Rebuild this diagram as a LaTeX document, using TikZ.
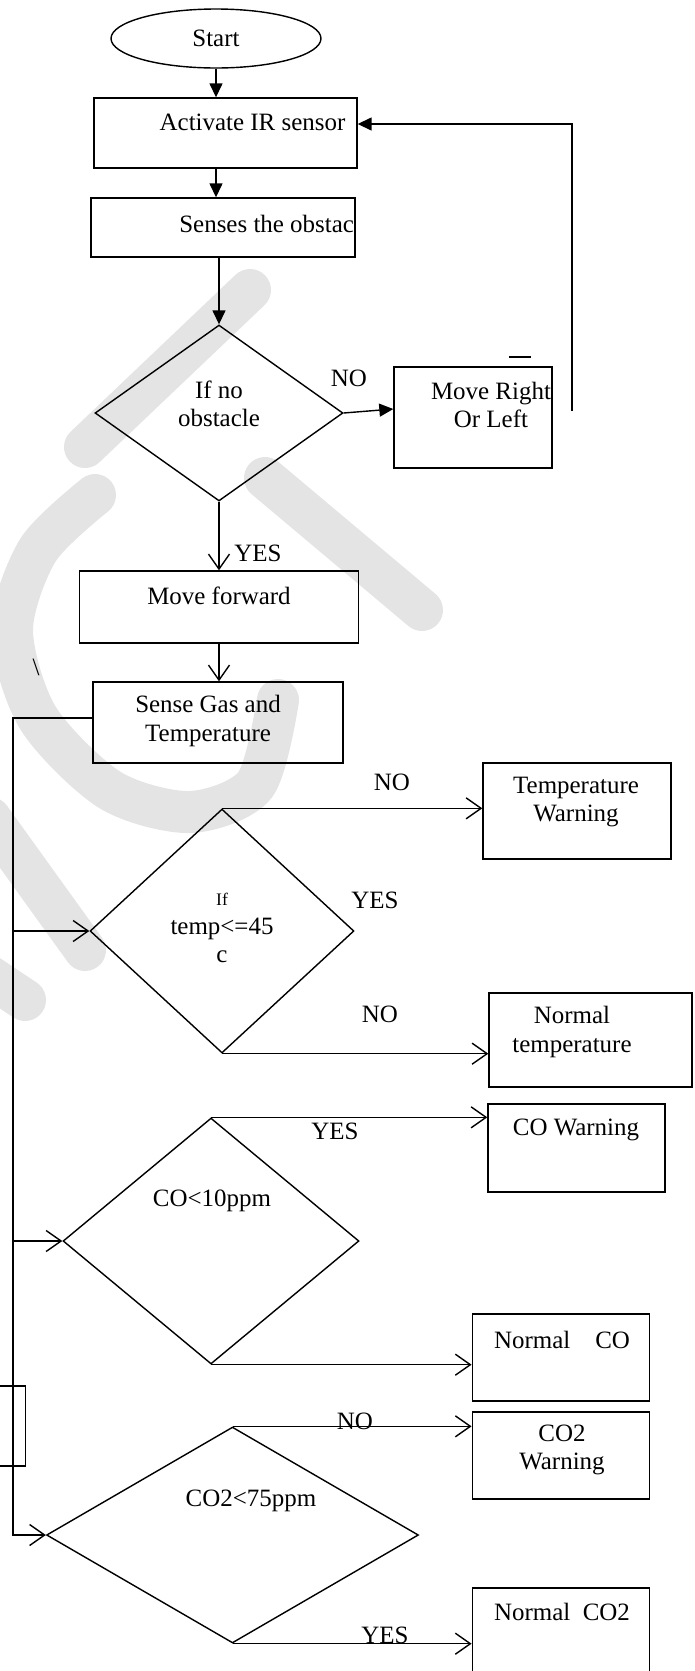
\documentclass[tikz,border=0pt]{standalone}
\usepackage{fontspec}
\setmainfont{Liberation Serif}
\usetikzlibrary{shapes.geometric, arrows.meta, calc}

\begin{document}
\begin{tikzpicture}[
        x=0.02cm, y=-0.02cm,
        every node/.style={font=\fontsize{14.2}{16}\selectfont},
        box/.style={draw, rectangle, line width=0.8pt, inner sep=0pt},
        term/.style={draw, ellipse, line width=0.8pt, inner sep=0pt},
        cond/.style={draw, diamond, line width=0.8pt, inner sep=0pt},
        txt/.style={align=center, inner sep=0pt},
        fa/.style={line width=0.8pt, -{Triangle[length=0.28cm, width=0.26cm]}},
        oa/.style={line width=0.8pt, -{Straight Barb[length=0.3cm, width=0.42cm]}},
        wm/.style={line width=0.84cm, line cap=round, gray!21}
    ]
        \useasboundingbox (0,0) rectangle (694,1671);

        \draw[wm] (250,290) -- (85,447);
        \draw[wm] (265,478) -- (422,610);
        \draw[wm] plot[smooth] coordinates {(95,495) (38,550) (12,630) (38,718) (110,790) (190,812) (255,785) (278,700)};
        \draw[wm] (-10,818) -- (85,950);
        \draw[wm] (-20,970) -- (25,1000);

        \node[term, minimum width=4.2cm, minimum height=1.18cm] (start) at (216,38.5) {Start};
        \node[box, minimum width=5.26cm, minimum height=1.4cm] (act) at (225.5,133) {};
        \node[txt] (act-t) at (252.5,122) {Activate IR sensor};
        \node[box, minimum width=5.28cm, minimum height=1.18cm] (sen) at (223,227.5) {};
        \node[txt, anchor=west] (sen-t) at (179,224) {Senses the obstac};
        \node[cond, minimum width=4.96cm, minimum height=3.52cm] (d1) at (219,413) {};
        \node[txt] (d1-t) at (219,404) {If no\\obstacle};
        \node[box, minimum width=3.16cm, minimum height=2.02cm] (mov) at (473,417.5) {};
        \node[txt] (mov-t) at (491,405) {Move Right\\Or Left};
        \node[box, minimum width=5.58cm, minimum height=1.44cm] (fwd) at (219,607) {};
        \node[txt] (fwd-t) at (219,596) {Move forward};
        \node[box, minimum width=5cm, minimum height=1.62cm] (gas) at (218,722.5) {};
        \node[txt] (gas-t) at (208,721) {Sense Gas and\\Temperature};
        \node[txt] (bsl) at (36,667) {\textbackslash};

        \node[cond, minimum width=5.28cm, minimum height=4.88cm] (d2) at (222,931) {};
        \node[txt] (d2-t) at (222,928) {{\fontsize{10}{12}\selectfont If}\\temp<=45\\c};
        \node[box, minimum width=3.76cm, minimum height=1.92cm] (tw) at (577,811) {};
        \node[txt] (tw-t) at (576,802) {Temperature\\Warning};
        \node[box, minimum width=4.06cm, minimum height=1.88cm] (nt) at (590.5,1040) {};
        \node[txt] (nt-t) at (572,1032) {Normal\\temperature};

        \node[cond, minimum width=5.92cm, minimum height=4.92cm] (d3) at (211,1241) {};
        \node[txt] (d3-t) at (212,1201) {CO<10ppm};
        \node[box, minimum width=3.54cm, minimum height=1.76cm] (cow) at (576.5,1148) {};
        \node[txt] (cow-t) at (576,1130) {CO Warning};
        \node[box, minimum width=3.55cm, minimum height=1.74cm] (nco) at (561,1357.5) {};
        \node[txt] (nco-t) at (562,1340) {Normal\quad CO};

        \node[box, minimum width=0.71cm, minimum height=1.6cm] (lbox) at (7.75,1426) {};
        \node[cond, minimum width=7.44cm, minimum height=4.32cm] (d4) at (232.5,1535) {};
        \node[txt] (d4-t) at (251,1501) {CO2<75ppm};
        \node[box, minimum width=3.55cm, minimum height=1.74cm] (co2w) at (561,1455.5) {};
        \node[txt] (co2w-t) at (562,1450) {CO2\\Warning};
        \node[box, minimum width=3.55cm, minimum height=2.64cm] (nco2) at (561,1654) {};
        \node[txt] (nco2-t) at (562,1612) {Normal\ \ CO2};

        \node[txt] (no1) at (349,378) {NO};
        \node[txt] (yes1) at (258,553) {YES};
        \node[txt] (no2) at (392,782) {NO};
        \node[txt] (yes2) at (375,900) {YES};
        \node[txt] (no3) at (380,1014) {NO};
        \node[txt] (yes3) at (335,1131) {YES};
        \node[txt] (no4) at (355,1421) {NO};
        \node[txt] (yes4) at (385,1635) {YES};

        \coordinate (fb) at (572,411);
        \coordinate (bus) at (13,0);

        \draw[fa] (start) -- (start |- act.north);
        \draw[fa] (start |- act.south) -- (start |- sen.north);
        \draw[fa] (d1 |- sen.south) -- (d1.north);
        \draw[fa] (d1.east) -- ($(mov.west)+(0,-8.5)$);
        \draw[fa] (fb) |- ($(act.east)+(0,-9)$);
        \draw[line width=0.8pt] (509,357) -- (531,357);

        \draw[oa] (d1.south) -- (d1 |- fwd.north);
        \draw[oa] (fwd.south) -- (fwd.south |- gas.north);
        \draw[oa] ($(gas.west)+(0,-4.5)$) -| (bus |- d4.west) -- (d4.west);
        \draw[oa] (bus |- d2.west) -- (d2.west);
        \draw[oa] (bus |- d3.west) -- (d3.west);

        \draw[oa] (d2.north) -- (d2.north -| tw.west);
        \draw[oa] (d2.south) -- (d2.south -| nt.west);
        \draw[oa] (d3.north) -- (d3.north -| cow.west);
        \draw[oa] (d3.south) -- (d3.south -| nco.west);
        \draw[oa] (d4.north) -- (d4.north -| co2w.west);
        \draw[oa] (d4.south) -- (d4.south -| nco2.west);
    \end{tikzpicture}
\end{document}
